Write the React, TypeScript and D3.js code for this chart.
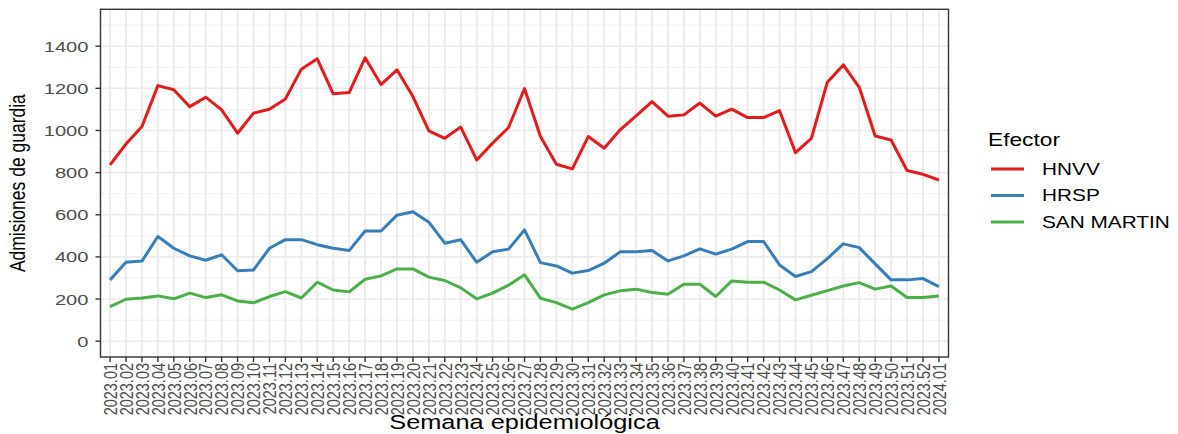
import { useEffect, useRef } from 'react'
import * as d3 from 'd3'

// Epidemiological weeks (x categories)
const weeks = [
  '2023.01', '2023.02', '2023.03', '2023.04', '2023.05', '2023.06', '2023.07', '2023.08', '2023.09', '2023.10',
  '2023.11', '2023.12', '2023.13', '2023.14', '2023.15', '2023.16', '2023.17', '2023.18', '2023.19', '2023.20',
  '2023.21', '2023.22', '2023.23', '2023.24', '2023.25', '2023.26', '2023.27', '2023.28', '2023.29', '2023.30',
  '2023.31', '2023.32', '2023.33', '2023.34', '2023.35', '2023.36', '2023.37', '2023.38', '2023.39', '2023.40',
  '2023.41', '2023.42', '2023.43', '2023.44', '2023.45', '2023.46', '2023.47', '2023.48', '2023.49', '2023.50',
  '2023.51', '2023.52', '2024.01'
]

const hnvv = [
  837, 936, 1019, 1213, 1193, 1113, 1158, 1098, 987, 1082,
  1101, 1149, 1291, 1340, 1174, 1180, 1345, 1218, 1288, 1161,
  998, 963, 1016, 860, 940, 1014, 1199, 971, 840, 818,
  971, 916, 1003, 1069, 1137, 1068, 1074, 1130, 1068, 1101,
  1061, 1061, 1094, 895, 963, 1229, 1311, 1205, 974, 955,
  810, 792, 765
]

const hrsp = [
  291, 375, 380, 497, 441, 405, 384, 410, 334, 338,
  441, 482, 482, 458, 441, 430, 523, 523, 598, 614,
  565, 465, 481, 375, 424, 437, 528, 373, 357, 323,
  335, 370, 424, 424, 430, 381, 405, 438, 413, 437,
  473, 473, 362, 307, 330, 392, 462, 444, 367, 291,
  291, 297, 259
]

const sanMartin = [
  164, 199, 205, 215, 201, 228, 207, 220, 191, 182,
  212, 235, 205, 280, 243, 234, 294, 310, 343, 343,
  304, 288, 253, 201, 228, 266, 315, 204, 183, 152,
  183, 220, 239, 247, 231, 223, 270, 270, 212, 286,
  280, 280, 243, 196, 218, 240, 262, 278, 247, 262,
  207, 207, 215
]

const seriesNames = ['HNVV', 'HRSP', 'SAN MARTIN']
const seriesColors = ['#E41A1C', '#377EB8', '#4DAF4A']
const seriesValues = [hnvv, hrsp, sanMartin]

const yTicks = [0, 200, 400, 600, 800, 1000, 1200, 1400]
const yMinor = [100, 300, 500, 700, 900, 1100, 1300, 1500]

const WIDTH = 1178
const HEIGHT = 434
// the reference looks stretched sideways, so text gets the same squash
const SX = 1.3
const FONT = '"Liberation Sans", Arial, Helvetica, sans-serif'

function App() {
  const svgRef = useRef<SVGSVGElement | null>(null)

  useEffect(() => {
    if (!svgRef.current) return
    const root = d3.select(svgRef.current)
    root.selectAll('*').remove()

    const panel = { left: 100.5, right: 948.5, top: 9.3, bottom: 357 }

    const x = d3.scalePoint<string>()
      .domain(weeks)
      .range([panel.left, panel.right])
      .padding(0.6)

    // 0..1500 with ggplot's 5% expansion
    const y = d3.scaleLinear()
      .domain([-75, 1575])
      .range([panel.bottom, panel.top])

    root.append('rect')
      .attr('x', panel.left).attr('y', panel.top)
      .attr('width', panel.right - panel.left)
      .attr('height', panel.bottom - panel.top)
      .attr('fill', '#ffffff')

    // minor grid
    root.append('g')
      .selectAll('line')
      .data(yMinor)
      .enter()
      .append('line')
      .attr('x1', panel.left).attr('x2', panel.right)
      .attr('y1', d => y(d)).attr('y2', d => y(d))
      .attr('stroke', '#f0f0f0')
      .attr('stroke-width', 1)

    // major grid
    root.append('g')
      .selectAll('line')
      .data(yTicks)
      .enter()
      .append('line')
      .attr('x1', panel.left).attr('x2', panel.right)
      .attr('y1', d => y(d)).attr('y2', d => y(d))
      .attr('stroke', '#ebebeb')
      .attr('stroke-width', 1.6)

    root.append('g')
      .selectAll('line')
      .data(weeks)
      .enter()
      .append('line')
      .attr('x1', d => x(d)!).attr('x2', d => x(d)!)
      .attr('y1', panel.top).attr('y2', panel.bottom)
      .attr('stroke', '#ebebeb')
      .attr('stroke-width', 2)

    // series lines
    const line = d3.line<number>()
      .x((d, i) => x(weeks[i])!)
      .y(d => y(d))

    seriesValues.forEach((vals, k) => {
      root.append('path')
        .datum(vals)
        .attr('d', line)
        .attr('fill', 'none')
        .attr('stroke', seriesColors[k])
        .attr('stroke-width', 3)
        .attr('stroke-linejoin', 'round')
    })

    // panel border
    root.append('rect')
      .attr('x', panel.left).attr('y', panel.top)
      .attr('width', panel.right - panel.left)
      .attr('height', panel.bottom - panel.top)
      .attr('fill', 'none')
      .attr('stroke', '#333333')
      .attr('stroke-width', 1.4)

    // y axis ticks + labels
    const yAxis = root.append('g')
    yAxis.selectAll('line')
      .data(yTicks)
      .enter()
      .append('line')
      .attr('x1', panel.left - 5).attr('x2', panel.left)
      .attr('y1', d => y(d)).attr('y2', d => y(d))
      .attr('stroke', '#333333')
      .attr('stroke-width', 1.4)
    yAxis.selectAll('text')
      .data(yTicks)
      .enter()
      .append('text')
      .attr('transform', d => `translate(${panel.left - 12},${y(d)}) scale(${SX},1)`)
      .attr('dy', '0.36em')
      .attr('text-anchor', 'end')
      .attr('font-family', FONT)
      .attr('font-size', 15.5)
      .attr('fill', '#4d4d4d')
      .text(d => d)

    // x axis ticks + rotated labels
    const xAxis = root.append('g')
    xAxis.selectAll('line')
      .data(weeks)
      .enter()
      .append('line')
      .attr('x1', d => x(d)!).attr('x2', d => x(d)!)
      .attr('y1', panel.bottom).attr('y2', panel.bottom + 5)
      .attr('stroke', '#333333')
      .attr('stroke-width', 1.4)
    xAxis.selectAll('text')
      .data(weeks)
      .enter()
      .append('text')
      .attr('transform', d => `translate(${x(d)},${panel.bottom + 6}) scale(${SX},1) rotate(-90)`)
      .attr('dy', '0.36em')
      .attr('text-anchor', 'end')
      .attr('font-family', FONT)
      .attr('font-size', 14.5)
      .attr('fill', '#4d4d4d')
      .text(d => d)

    // axis titles
    root.append('text')
      .attr('transform', `translate(${(panel.left + panel.right) / 2},${429}) scale(${SX},1)`)
      .attr('text-anchor', 'middle')
      .attr('font-family', FONT)
      .attr('font-size', 19.5)
      .attr('fill', '#000000')
      .text('Semana epidemiológica')

    root.append('text')
      .attr('transform', `translate(${25},${(panel.top + panel.bottom) / 2}) scale(${SX},1) rotate(-90)`)
      .attr('text-anchor', 'middle')
      .attr('font-family', FONT)
      .attr('font-size', 17.5)
      .attr('fill', '#000000')
      .text('Admisiones de guardia')

    // legend
    const legend = root.append('g')
    legend.append('text')
      .attr('transform', `translate(${988},${146}) scale(${SX},1)`)
      .attr('font-family', FONT)
      .attr('font-size', 17.5)
      .attr('fill', '#000000')
      .text('Efector')

    seriesNames.forEach((name, k) => {
      const cy = 169 + k * 26.5
      legend.append('line')
        .attr('x1', 991).attr('x2', 1024)
        .attr('y1', cy).attr('y2', cy)
        .attr('stroke', seriesColors[k])
        .attr('stroke-width', 3)
      legend.append('text')
        .attr('transform', `translate(${1042},${cy}) scale(${SX},1)`)
        .attr('dy', '0.36em')
        .attr('font-family', FONT)
        .attr('font-size', 16)
        .attr('fill', '#000000')
        .text(name)
    })
  }, [])

  return (
    <div style={{ position: 'absolute', left: 0, top: 0, width: WIDTH, height: HEIGHT, background: '#ffffff' }}>
      <svg ref={svgRef} width={WIDTH} height={HEIGHT} style={{ display: 'block' }} />
    </div>
  )
}

export default App
